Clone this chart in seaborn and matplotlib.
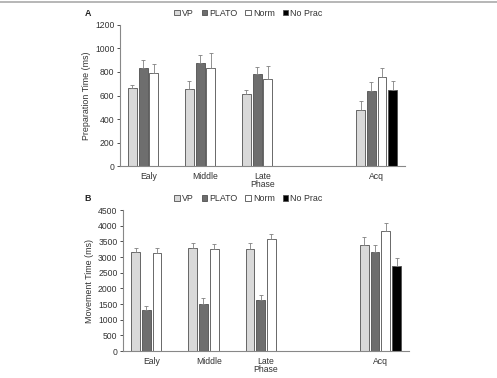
import seaborn as sns
import matplotlib.pyplot as plt
import pandas as pd
from matplotlib.patches import Patch
from matplotlib.lines import Line2D

# group labels and phases
groups = ['VP', 'PLATO', 'Norm', 'No Prac']
phases = ['Ealy', 'Middle', 'Late\nPhase', 'gap', 'Acq']
tick_labels = ['Ealy', 'Middle', 'Late\nPhase', '', 'Acq']

# panel A: preparation time (ms), No Prac only at Acq
prep_vp = [664, 658, 613, 479]
prep_plato = [834, 879, 786, 635]
prep_norm = [789, 834, 740, 760]
prep_noprac = [650]
prep_vp_err = [25, 68, 37, 77]
prep_plato_err = [71, 69, 59, 83]
prep_norm_err = [82, 125, 114, 77]
prep_noprac_err = [76]

# panel B: movement time (ms)
move_vp = [3149, 3287, 3255, 3394]
move_plato = [1298, 1500, 1617, 3149]
move_norm = [3117, 3245, 3574, 3830]
move_noprac = [2723]
move_vp_err = [128, 149, 181, 245]
move_plato_err = [128, 181, 160, 234]
move_norm_err = [160, 160, 160, 245]
move_noprac_err = [234]

data_phases = ['Ealy', 'Middle', 'Late\nPhase', 'Acq']
colors = {'VP': '#d9d9d9', 'PLATO': '#6e6e6e', 'Norm': '#ffffff', 'No Prac': '#000000'}


def make_df(vp, plato, norm, noprac, vp_e, plato_e, norm_e, noprac_e):
    rows = []
    for i, ph in enumerate(data_phases):
        rows.append((ph, 'VP', vp[i], vp_e[i]))
        rows.append((ph, 'PLATO', plato[i], plato_e[i]))
        rows.append((ph, 'Norm', norm[i], norm_e[i]))
    rows.append(('Acq', 'No Prac', noprac[0], noprac_e[0]))
    return pd.DataFrame(rows, columns=['phase', 'group', 'value', 'err'])


dfA = make_df(prep_vp, prep_plato, prep_norm, prep_noprac,
              prep_vp_err, prep_plato_err, prep_norm_err, prep_noprac_err)
dfB = make_df(move_vp, move_plato, move_norm, move_noprac,
              move_vp_err, move_plato_err, move_norm_err, move_noprac_err)

sns.set_style('white')
plt.rcParams['font.family'] = ['Liberation Sans', 'DejaVu Sans']

fig = plt.figure(figsize=(4.97, 3.78), dpi=100)
axA = fig.add_axes([0.2414, 0.5608, 0.5736, 0.3731])
axB = fig.add_axes([0.2475, 0.0714, 0.5755, 0.3730])

fig.add_artist(Line2D([0, 1], [0.994, 0.994], color='#aaaaaa', lw=1.2))


def draw(ax, df, ymax, step, ylabel):
    sns.barplot(data=df, x='phase', y='value', hue='group', order=phases,
                hue_order=groups, palette=colors, errorbar=None, width=0.75,
                gap=0.18, edgecolor='#505050', linewidth=0.6, legend=False, ax=ax)
    # upper error bars
    for p in ax.patches:
        if p.get_height() == 0 or p.get_width() == 0:
            continue
        xc = p.get_x() + p.get_width() / 2
        ph = phases[int(round(xc))]
        sub = df[df['phase'] == ph]
        row = sub.iloc[(sub['value'] - p.get_height()).abs().argmin()]
        ax.errorbar(xc, row['value'], yerr=[[0], [row['err']]], fmt='none',
                    ecolor='#808080', elinewidth=0.6, capsize=1.6, capthick=0.6)
    ax.set_xlim(-0.5, 4.5)
    ax.set_ylim(0, ymax)
    ax.set_yticks(range(0, ymax + 1, step))
    ax.set_xticks(range(5))
    ax.set_xticklabels(tick_labels, fontsize=6.2, color='#333333', linespacing=0.9)
    ax.tick_params(axis='y', labelsize=6.2, colors='#333333', length=2, width=0.6,
                   left=True, pad=2)
    ax.tick_params(axis='x', length=0, pad=4)
    ax.set_xlabel('')
    ax.set_ylabel(ylabel, fontsize=6.4, color='#333333', labelpad=3)
    sns.despine(ax=ax)
    for s in ['left', 'bottom']:
        ax.spines[s].set_color('#888888')
        ax.spines[s].set_linewidth(0.8)


draw(axA, dfA, 1200, 200, 'Preparation Time (ms)')
draw(axB, dfB, 4500, 500, 'Movement Time (ms)')

handles = [Patch(facecolor=colors[g], edgecolor='#505050', linewidth=0.6, label=g)
           for g in groups]
for ax, ylab, letter in [(axA, 0.965, 'A'), (axB, 0.474, 'B')]:
    fig.legend(handles=handles, loc='center', bbox_to_anchor=(0.5, ylab), ncol=4,
               frameon=False, fontsize=6.4, handlelength=0.6, handleheight=0.6,
               handletextpad=0.25, columnspacing=0.9, labelcolor='#333333')
    fig.text(0.177, ylab, letter, fontsize=6.4, fontweight='bold', ha='center',
             va='center', color='#222222')

fig.savefig('out.png', dpi=100)
